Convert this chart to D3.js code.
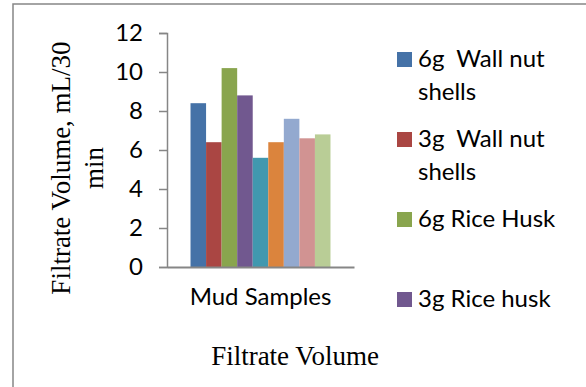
<!DOCTYPE html>
<html>
<head>
<meta charset="utf-8">
<script src="https://d3js.org/d3.v7.min.js"></script>
<style>
  html, body { margin: 0; padding: 0; background: #fff; }
  svg { display: block; }
  .sans { font-family: Lato, "Open Sans", sans-serif; }
  .serif { font-family: "Liberation Serif", "DejaVu Serif", serif; }
</style>
</head>
<body>
<svg id="chart" width="586" height="387"></svg>
<script>
// Filtrate volume per mud sample additive (mL / 30 min)
const categories = ["Mud Samples"];
const seriesValues = [8.4, 6.4, 10.2, 8.8, 5.6, 6.4, 7.6, 6.6, 6.8];
const seriesColors = ["#4572A7", "#AA4643", "#89A54E", "#71588F", "#4198AF",
                      "#DB843D", "#93A9CF", "#D19392", "#B9CD96"];
const legendLabels = [["6g  Wall nut", "shells"], ["3g  Wall nut", "shells"],
                      ["6g Rice Husk"], ["3g Rice husk"]];
const yTicks = [0, 2, 4, 6, 8, 10, 12];

const svg = d3.select("#chart");
const axisColor = "#868686";

// chart frame (runs off the right and bottom edges)
svg.append("rect")
  .attr("x", 13).attr("y", 4)
  .attr("width", 600).attr("height", 400)
  .attr("fill", "#fff")
  .attr("stroke", axisColor).attr("stroke-width", 1.5);

const plot = { left: 167, right: 354, top: 33, bottom: 267 };

const x0 = d3.scaleBand()
  .domain(categories)
  .range([plot.left, plot.right])
  .paddingInner(0)
  .paddingOuter(0.168);

const x1 = d3.scaleBand()
  .domain(d3.range(seriesValues.length))
  .range([0, x0.bandwidth()]);

const y = d3.scaleLinear()
  .domain([0, 12])
  .range([plot.bottom, plot.top]);

// bars
const g = svg.append("g");
categories.forEach(cat => {
  g.selectAll(null)
    .data(seriesValues)
    .join("rect")
    .attr("x", (d, i) => x0(cat) + x1(i))
    .attr("width", x1.bandwidth())
    .attr("y", d => y(d))
    .attr("height", d => y(0) - y(d))
    .attr("fill", (d, i) => seriesColors[i]);
});

// y axis
const yAxis = d3.axisLeft(y).tickValues(yTicks).tickSize(8).tickPadding(16);
const yg = svg.append("g")
  .attr("transform", `translate(${plot.left},0)`)
  .call(yAxis);
yg.select(".domain").attr("stroke", axisColor).attr("stroke-width", 1.5);
yg.selectAll(".tick line").attr("stroke", axisColor).attr("stroke-width", 1.5);
yg.selectAll(".tick text")
  .attr("class", "sans")
  .attr("font-size", 24)
  .attr("fill", "#000");

// x axis
const xAxis = d3.axisBottom(x0).tickSize(0).tickPadding(21);
const xg = svg.append("g")
  .attr("transform", `translate(0,${plot.bottom})`)
  .call(xAxis);
xg.select(".domain").attr("stroke", axisColor).attr("stroke-width", 2);
xg.selectAll(".tick text")
  .attr("class", "sans")
  .attr("font-size", 24)
  .attr("fill", "#000");

// axis titles
const yTitle = svg.append("text")
  .attr("class", "serif")
  .attr("font-size", 27)
  .attr("text-anchor", "middle")
  .attr("transform", "translate(70,168) rotate(-90)");
yTitle.append("tspan").attr("x", 0).attr("y", 0).text("Filtrate Volume, mL/30");
yTitle.append("tspan").attr("x", 0).attr("dy", 33).text("min");

svg.append("text")
  .attr("class", "serif")
  .attr("font-size", 27)
  .attr("text-anchor", "middle")
  .attr("x", 295).attr("y", 365)
  .text("Filtrate Volume");

// legend
const legend = svg.append("g");
legendLabels.forEach((lines, i) => {
  const cy = 67 + i * 80;
  legend.append("rect")
    .attr("x", 397).attr("y", cy - 15)
    .attr("width", 15).attr("height", 15)
    .attr("fill", seriesColors[i]);
  const t = legend.append("text")
    .attr("class", "sans")
    .attr("font-size", 24)
    .style("white-space", "pre")
    .attr("fill", "#000");
  lines.forEach((ln, j) => {
    t.append("tspan").attr("x", 418).attr("y", cy + j * 33).text(ln);
  });
});
</script>
</body>
</html>
